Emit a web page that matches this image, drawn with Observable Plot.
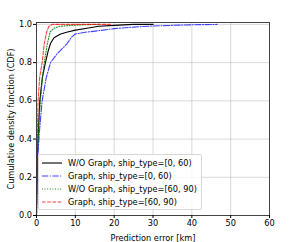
<!DOCTYPE html>
<html><head><meta charset="utf-8">
<script src="https://cdn.jsdelivr.net/npm/d3@7"></script>
<script src="https://cdn.jsdelivr.net/npm/@observablehq/plot@0.6"></script>
<style>
body{margin:0;background:#fff;font-family:"DejaVu Sans",sans-serif;}
#wrap{position:relative;width:298px;height:242px;}
#legend{position:absolute;left:38px;top:154px;width:164px;height:56px;background:rgba(255,255,255,0.8);border:1px solid #d8d8d8;border-radius:2px;box-sizing:border-box;font-family:"DejaVu Sans",sans-serif;font-size:8.2px;color:#000;}
.item{position:absolute;left:3px;height:12px;display:flex;align-items:center;white-space:nowrap;}
.item svg{margin-right:6px;}
</style>
</head><body>
<div id="wrap"></div>
<script>
const seriesNames = ["W/O Graph, ship_type=[0, 60)", "Graph, ship_type=[0, 60)", "W/O Graph, ship_type=[60, 90)", "Graph, ship_type=[60, 90)"];
const seriesColors = ["#000000", "#0000ff", "#008000", "#ff0000"];
const seriesDash = [null, "6.2,1.6,1,1.6", "1,1.6", "3.6,1.6"];
const seriesOpacity = [1, 0.75, 0.9, 0.75];

const woGraphA_x = [0, 0.2, 0.5, 0.85, 1.5, 2.3, 3.0, 3.6, 4.5, 6.2, 8, 10, 13, 16, 20, 25, 30];
const woGraphA_y = [0, 0.3, 0.45, 0.6, 0.72, 0.8, 0.86, 0.9, 0.93, 0.95, 0.96, 0.97, 0.98, 0.99, 0.995, 1.0, 1.0];
const graphA_x = [0, 0.3, 0.8, 1.45, 2.5, 3.6, 5.3, 7.9, 9, 10, 13, 16.4, 20, 25, 30, 35, 40, 46.5];
const graphA_y = [0, 0.3, 0.45, 0.6, 0.72, 0.8, 0.846, 0.9, 0.933, 0.95, 0.96, 0.968, 0.978, 0.986, 0.992, 0.995, 0.998, 1.0];
const woGraphB_x = [0, 0.2, 0.5, 1.0, 1.5, 2.0, 2.8, 3.5, 4.5, 6, 9, 12, 16];
const woGraphB_y = [0, 0.3, 0.45, 0.6, 0.72, 0.8, 0.9, 0.96, 0.98, 0.99, 0.995, 0.998, 1.0];
const graphB_x = [0, 0.1, 0.25, 0.4, 0.8, 1.45, 2.0, 2.6, 3.2, 4, 6, 10, 19];
const graphB_y = [0, 0.3, 0.45, 0.6, 0.72, 0.8, 0.9, 0.96, 0.99, 1.0, 1.0, 1.0, 1.0];

const xTicks = [0, 10, 20, 30, 40, 50, 60];
const yTicks = [0, 0.2, 0.4, 0.6, 0.8, 1.0];

const allX = [woGraphA_x, graphA_x, woGraphB_x, graphB_x];
const allY = [woGraphA_y, graphA_y, woGraphB_y, graphB_y];

const lineMarks = allX.map((xs, i) => Plot.line(xs.map((x, j) => ({x, y: allY[i][j]})), {
  x: "x", y: "y", stroke: seriesColors[i], strokeWidth: 1.1,
  strokeDasharray: seriesDash[i], strokeOpacity: seriesOpacity[i]
}));

const chart = Plot.plot({
  width: 298, height: 242,
  marginLeft: 36, marginRight: 29, marginTop: 22, marginBottom: 27,
  style: {fontFamily: "DejaVu Sans, sans-serif", fontSize: "8.2px", color: "#000", background: "#fff"},
  x: {domain: [0, 60]},
  y: {domain: [0, 1.01]},
  marks: [
    Plot.gridX(xTicks, {stroke: "#b0b0b0", strokeOpacity: 0.6, strokeWidth: 0.8}),
    Plot.gridY(yTicks, {stroke: "#b0b0b0", strokeOpacity: 0.6, strokeWidth: 0.8}),
    ...lineMarks,
    Plot.frame({stroke: "#333", strokeWidth: 0.9}),
    Plot.axisX(xTicks, {tickSize: 3, tickPadding: 1.5, tickFormat: d3.format("d"), label: "Prediction error [km]", labelAnchor: "center", labelOffset: 25, labelArrow: "none"}),
    Plot.axisY(yTicks, {tickSize: 3, tickPadding: 1.5, tickFormat: d3.format(".1f"), label: "Cumulative density function (CDF)", labelAnchor: "center", labelOffset: 28, labelArrow: "none"})
  ]
});
const wrap = document.getElementById("wrap");
wrap.appendChild(chart);

const legend = document.createElement("div");
legend.id = "legend";
seriesNames.forEach((name, i) => {
  const it = document.createElement("div");
  it.className = "item";
  it.style.top = (2 + i * 12.9) + "px";
  const dash = seriesDash[i] ? ` stroke-dasharray="${seriesDash[i]}"` : "";
  it.innerHTML = `<svg width="20" height="4"><line x1="0" y1="2" x2="20" y2="2" stroke="${seriesColors[i]}" stroke-width="1.1" stroke-opacity="${seriesOpacity[i]}"${dash}/></svg><span>${name}</span>`;
  legend.appendChild(it);
});
wrap.appendChild(legend);
</script>
</body></html>
